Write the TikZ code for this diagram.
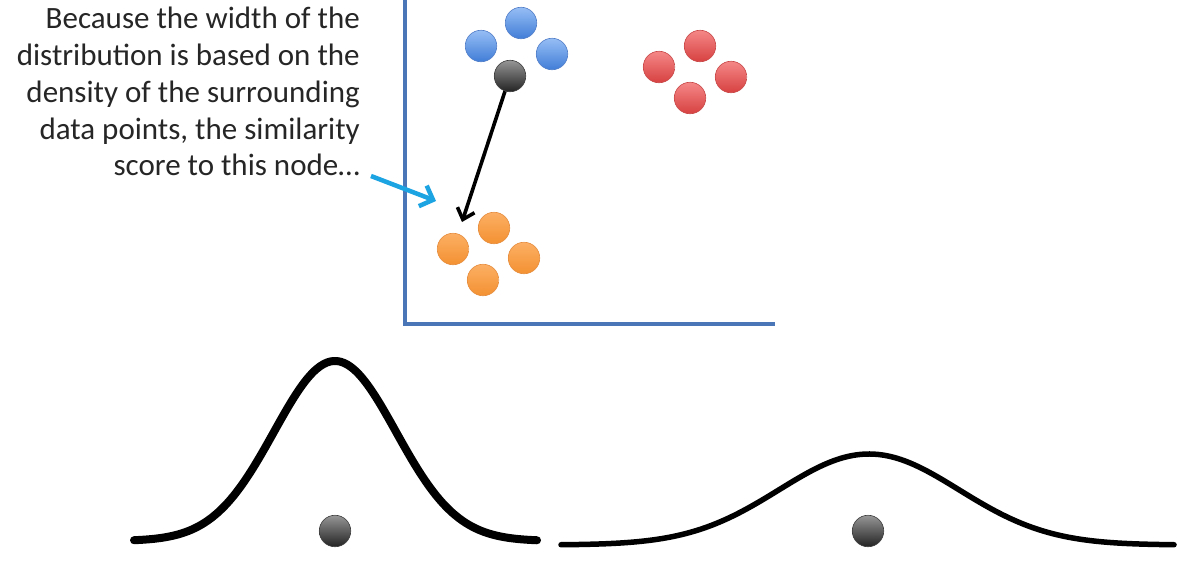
\documentclass[tikz,border=0pt]{standalone}
\usepackage{fontspec}
\setmainfont{Carlito}
\usetikzlibrary{arrows.meta}
\definecolor{axisblue}{RGB}{74,118,184}
\definecolor{arrowblue}{RGB}{27,163,226}
\tikzset{
  ball/.style={circle, minimum size=31.5pt, inner sep=0pt, line width=0.6pt},
  bluedot/.style={ball, draw={rgb,255:red,80;green,125;blue,200}, top color={rgb,255:red,150;green,190;blue,245}, bottom color={rgb,255:red,65;green,125;blue,215}},
  reddot/.style={ball, draw={rgb,255:red,200;green,70;blue,70}, top color={rgb,255:red,245;green,135;blue,135}, bottom color={rgb,255:red,215;green,65;blue,65}},
  orangedot/.style={ball, draw={rgb,255:red,230;green,140;blue,60}, top color={rgb,255:red,252;green,175;blue,100}, bottom color={rgb,255:red,243;green,145;blue,50}},
  graydot/.style={ball, draw={rgb,255:red,60;green,60;blue,60}, top color={rgb,255:red,150;green,150;blue,150}, bottom color={rgb,255:red,35;green,35;blue,35}},
  axisline/.style={draw=axisblue, line width=3.2pt},
  blackarrow/.style={line width=3.6pt, -{Straight Barb[length=10pt,width=18pt,line width=3.6pt]}},
  bluearrow/.style={draw=arrowblue, line width=4.5pt, -{Straight Barb[length=11pt,width=22pt,line width=4.5pt]}},
  curve/.style={line width=#1, line cap=round, line join=round},
  caption/.style={align=right, inner sep=0pt, text=black!85, font=\fontsize{31}{36.8}\selectfont}
}
\begin{document}
\begin{tikzpicture}[x=1pt,y=-1pt]
\useasboundingbox (0,0) rectangle (1187,581);
\fill[white] (0,0) rectangle (1187,581);
% axes
\coordinate (ytop) at (405,0);
\coordinate (origin) at (405,324);
\coordinate (xend) at (775,324);
\draw[axisline] (ytop) -- (origin) -- (xend);
% blue cluster
\node[bluedot] (b1) at (481,46) {};
\node[bluedot] (b2) at (521,23) {};
\node[bluedot] (b3) at (552,54) {};
\node[graydot] (k) at (510,76) {};
% red cluster
\node[reddot] (r1) at (700,46) {};
\node[reddot] (r2) at (659,67) {};
\node[reddot] (r3) at (731,77) {};
\node[reddot] (r4) at (690,98) {};
% orange cluster
\node[orangedot] (o1) at (494,228) {};
\node[orangedot] (o2) at (453,249) {};
\node[orangedot] (o3) at (524,258) {};
\node[orangedot] (o4) at (483,280) {};
% black arrow
\coordinate (ktip) at (462,222);
\draw[blackarrow] (k) -- (ktip);
% caption
\node[caption, anchor=north east] (txt) at (360,7) {Because the width of the\\distribution is based on the\\density of the surrounding\\data points, the similarity\\score to this node\ldots};
\coordinate (bstart) at (371,176);
\coordinate (btip) at (436,201);
\draw[bluearrow] (bstart) -- (btip);
% gaussians
\draw[curve=8pt] plot[domain=134:537, samples=120, smooth] (\x, {541-180*exp(-0.5*((\x-335)/61)^2)});
\draw[curve=5.5pt] plot[domain=561:1174, samples=140, smooth] (\x, {545-91*exp(-0.5*((\x-869)/90)^2)});
\node[graydot] (d1) at (335,531) {};
\node[graydot] (d2) at (868,531) {};
\end{tikzpicture}
\end{document}
